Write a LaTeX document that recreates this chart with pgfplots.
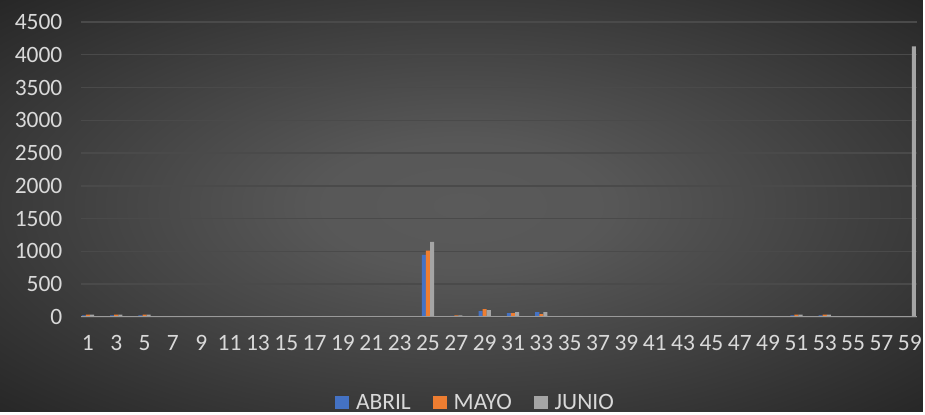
\documentclass[border=0pt]{standalone}
\usepackage{pgfplots}
\pgfplotsset{compat=1.18}
\usepackage{pgfplotstable}
\usepackage{fontspec}
\setmainfont{Carlito}
\definecolor{cA}{HTML}{4472C4}
\definecolor{cM}{HTML}{ED7D31}
\definecolor{cJ}{HTML}{A5A5A5}
\definecolor{txt}{HTML}{D9D9D9}
\definecolor{grd}{HTML}{4A4A4A}
\definecolor{bgin}{HTML}{5A5A5A}
\definecolor{bgout}{HTML}{262626}
\definecolor{axl}{HTML}{9A9A9A}
\pgfdeclareradialshading{bgshade}{\pgfpoint{0bp}{0bp}}{color(0bp)=(bgin); color(8bp)=(bgin!95!bgout); color(36bp)=(bgout); color(50bp)=(bgout)}
\pgfplotsset{sqleg/.style={legend image code/.code={\fill[##1] (0pt,-6.5pt) rectangle (14pt,6.5pt); \path (19pt,0pt);}}}
\pgfplotstableread{
x A M J
1 25 35 35
2 0 0 0
3 25 35 35
4 0 0 0
5 25 35 35
6 0 0 0
7 0 0 0
8 0 0 0
9 0 0 10
10 0 0 0
11 5 10 10
12 0 0 0
13 5 10 10
14 0 0 0
15 0 0 0
16 0 0 0
17 0 0 0
18 0 0 0
19 0 0 0
20 0 0 0
21 5 10 10
22 0 0 0
23 5 10 10
24 0 0 0
25 948 1010 1147
26 0 0 0
27 15 25 25
28 0 0 0
29 89 120 105
30 0 0 0
31 59 59 74
32 0 0 0
33 74 43 74
34 0 0 0
35 0 0 0
36 0 0 0
37 0 0 10
38 0 0 0
39 0 0 0
40 0 0 0
41 0 0 0
42 0 0 0
43 0 0 0
44 0 0 0
45 0 0 0
46 0 0 0
47 0 0 0
48 0 0 0
49 0 0 10
50 0 0 0
51 25 35 35
52 0 0 0
53 25 35 35
54 0 0 0
55 5 10 10
56 0 0 0
57 5 10 10
58 0 0 0
59 0 0 4127
}\data
\begin{document}
\begin{tikzpicture}
\shade[shading=bgshade] (0pt,0pt) rectangle (925pt,412pt);
\begin{axis}[
  at={(81pt,94.3pt)}, anchor=south west,
  scale only axis, width=838pt, height=295.7pt,
  xmin=0.5, xmax=59.5, ymin=0, ymax=4500,
  ybar=0pt, bar width=4.1pt,
  axis line style={draw=none},
  tick style={draw=none},
  xtick={1,3,...,59},
  ytick={0,500,...,4500},
  ymajorgrids, grid style={grd, line width=1.5pt},
  /pgf/number format/assume math mode=true,
  /pgf/number format/.cd, 1000 sep={}, /pgfplots/.cd,
  ticklabel style={font=\fontsize{23.5}{28}\selectfont, text=txt},
  xticklabel style={yshift=-11pt},
  yticklabel style={xshift=-15pt},
  legend style={at={(0.472,-0.29)}, anchor=center, draw=none, fill=none,
    text=txt, font=\fontsize{23.5}{28}\selectfont, legend columns=3,
    /tikz/every even column/.append style={column sep=20pt}},
]
\addplot[fill=cA, draw=none, sqleg] table[x=x, y=A] {\data};
\addplot[fill=cM, draw=none, sqleg] table[x=x, y=M] {\data};
\addplot[fill=cJ, draw=none, sqleg] table[x=x, y=J] {\data};
\legend{ABRIL, MAYO, JUNIO}
\draw[axl, line width=2.3pt] (axis cs:0.5,0) -- (axis cs:59.5,0);
\end{axis}
\end{tikzpicture}
\end{document}
